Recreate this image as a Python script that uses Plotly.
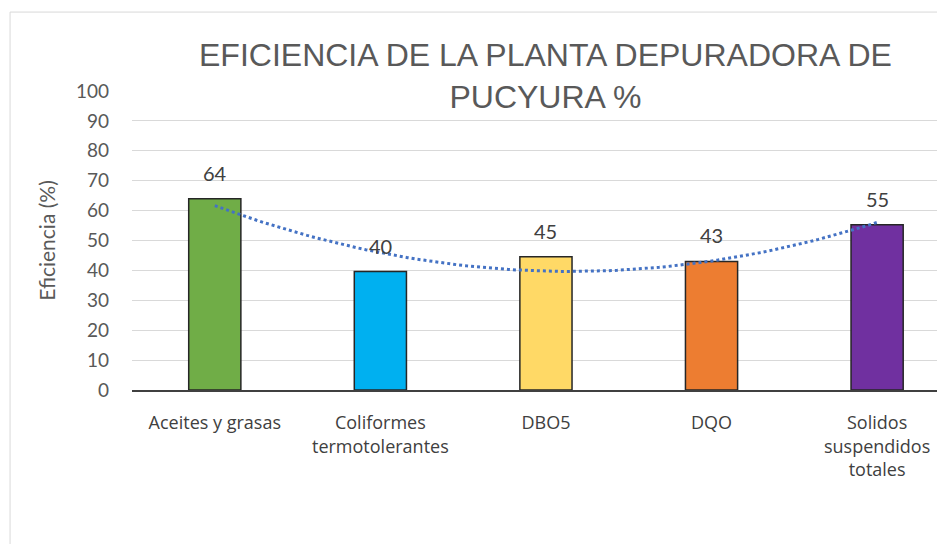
import numpy as np
import plotly.graph_objects as go

categorias = [
    "Aceites y grasas",
    "Coliformes<br>termotolerantes",
    "DBO5",
    "DQO",
    "Solidos<br>suspendidos<br>totales",
]
eficiencia = [64, 39.6, 44.6, 43.0, 55.3]
colores = ["#70ad47", "#00b0f0", "#ffd966", "#ed7d31", "#7030a0"]
y_ticks = list(range(0, 101, 10))

x_pos = list(range(len(categorias)))

# linea de tendencia polinomica (orden 2), como en Excel
coef = np.polyfit(x_pos, eficiencia, 2)
x_tend = np.linspace(0, len(categorias) - 1, 80)
y_tend = np.polyval(coef, x_tend)

FUENTE = "Lato, sans-serif"

fig = go.Figure()
fig.add_trace(
    go.Bar(
        x=x_pos,
        y=eficiencia,
        width=0.315,
        marker=dict(color=colores, line=dict(color="#262626", width=1.5)),
        showlegend=False,
        hoverinfo="skip",
    )
)
fig.add_trace(
    go.Scatter(
        x=x_tend,
        y=y_tend,
        mode="lines",
        line=dict(color="#4472c4", width=3, dash="dot"),
        showlegend=False,
        hoverinfo="skip",
    )
)

for xi, v in zip(x_pos, eficiencia):
    fig.add_annotation(
        x=xi, y=v, text=f"{v:.0f}", showarrow=False, yshift=26,
        font=dict(family=FUENTE, size=20, color="#404040"),
    )

fig.add_annotation(
    xref="paper", yref="paper", x=0.508, y=1.05,
    xanchor="center", yanchor="middle",
    text="EFICIENCIA DE LA PLANTA DEPURADORA DE<br>PUCYURA %",
    showarrow=False, bgcolor="white", borderpad=2,
    font=dict(family="Liberation Sans, Arial, sans-serif", size=32, color="#595959"),
)

# borde del area del grafico
fig.add_shape(
    type="rect", xref="paper", yref="paper",
    x0=-0.150, y0=-0.6, x1=1.1, y1=1.264,
    line=dict(color="#d9d9d9", width=1), layer="below",
)

# la pagina tiene 8 px de margen en el body
fig.update_layout(
    width=937,
    height=536,
    template="plotly_white",
    paper_bgcolor="white",
    plot_bgcolor="white",
    margin=dict(l=124, r=0, t=83, b=154),
)
fig.update_xaxes(
    range=[-0.5, 4.41],
    tickmode="array",
    tickvals=x_pos,
    ticktext=categorias,
    showgrid=False,
    showline=True,
    linecolor="#404040",
    linewidth=1.5,
    ticks="outside",
    ticklen=16,
    tickcolor="rgba(0,0,0,0)",
    tickfont=dict(family="Open Sans, sans-serif", size=18, color="#404040"),
    zeroline=False,
)
fig.update_yaxes(
    range=[0, 100],
    tickmode="array",
    tickvals=y_ticks,
    gridcolor="#d9d9d9",
    gridwidth=1,
    zeroline=False,
    ticklabelstandoff=22,
    tickfont=dict(family=FUENTE, size=19, color="#595959"),
    title=dict(
        text="Eficiencia (%)",
        font=dict(family=FUENTE, size=21, color="#595959"),
        standoff=14,
    ),
)

fig.write_html("out.html")
